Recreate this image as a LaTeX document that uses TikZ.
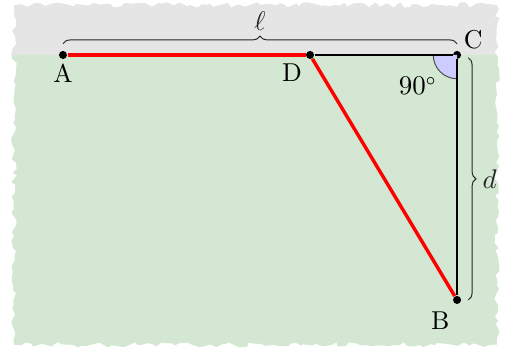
\documentclass[tikz,border=0pt]{standalone}
\usetikzlibrary{decorations.pathmorphing,decorations.pathreplacing,angles,quotes}
\definecolor{paper}{RGB}{211,231,211}
\definecolor{band}{RGB}{229,229,229}
\definecolor{wedge}{RGB}{204,204,255}
\begin{document}
\begin{tikzpicture}[
    font=\fontsize{10.5}{12}\selectfont,
    dot/.style={circle, fill=black, inner sep=0pt, minimum size=0.115cm},
    lbl/.style={inner sep=1pt},
    redline/.style={line width=1.4pt, red},
    blackline/.style={line width=1pt, black},
    brace/.style={decorate, decoration={brace, amplitude=0.11cm}, thin, black!85},
]
\useasboundingbox (0,0) rectangle (7.214,5.014);
% torn paper background
\pgfmathsetseed{7}
\begin{scope}
\clip[decorate, decoration={random steps, segment length=2pt, amplitude=1.1pt}]
    (0.2,0.09) rectangle (7.1,4.94);
\fill[paper] (0,0) rectangle (7.3,5.1);
\fill[band] (0,4.229) rectangle (7.3,5.1);
\end{scope}

\node[dot] (A) at (0.9,4.229) {};
\node[dot] (D) at (4.429,4.229) {};
\node[dot] (C) at (6.529,4.229) {};
\node[dot] (B) at (6.529,0.729) {};

\pic[draw=black!70, fill=wedge, angle radius=0.34cm] {angle=D--C--B};

\draw[blackline] (D) -- (C);
\draw[blackline] (C) -- (B);
\draw[redline] (A) -- (D);
\draw[redline] (D) -- (B);

\node[lbl] (la) at (0.9,3.97) {A};
\node[lbl] (ld) at (4.17,3.97) {D};
\node[lbl] (lc) at (6.76,4.45) {C};
\node[lbl] (lb) at (6.29,0.44) {B};
\node[lbl] (ang) at (5.97,3.786) {$90^\circ$};

\draw[brace] ([yshift=0.16cm]A.center) -- ([yshift=0.16cm]C.center)
    node[midway, above=0.07cm] (ell) {$\ell$};
\draw[brace] ([xshift=0.16cm, yshift=-0.04cm]C.center) -- ([xshift=0.16cm]B.center)
    node[midway, right=0.08cm] (dd) {$d$};
\end{tikzpicture}
\end{document}
